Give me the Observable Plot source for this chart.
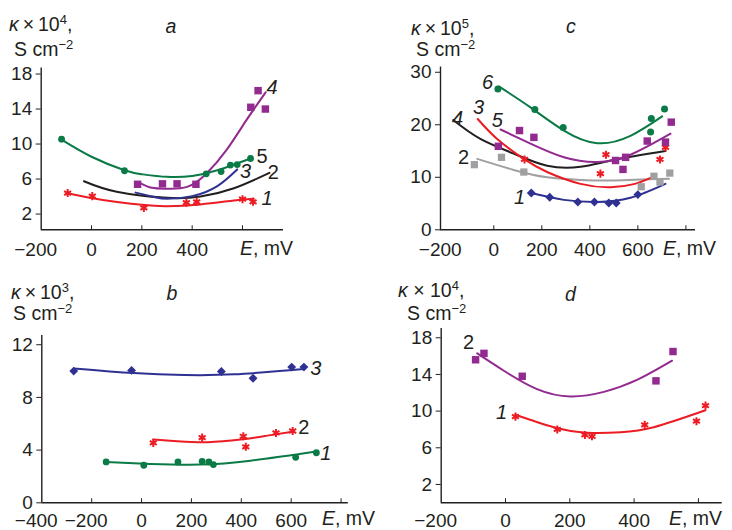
<!DOCTYPE html>
<html><head><meta charset="utf-8">
<script src="https://cdn.jsdelivr.net/npm/d3@7"></script>
<script src="https://cdn.jsdelivr.net/npm/@observablehq/plot@0.6"></script>
<style>
body{margin:0;background:#fff;}
#root{position:relative;width:732px;height:530px;font-family:"Liberation Sans",Arial,sans-serif;color:#231f20;overflow:hidden;}
.panel{position:absolute;}
.t{position:absolute;font-size:19.5px;line-height:19.5px;white-space:nowrap;}
.sup{position:relative;top:-7px;font-size:13px;}
</style></head><body><div id="root"></div>
<script>
// ---------- Panel a (κ×10^4) ----------
const a1Pts = [[-95,4.4],[3,4.05],[208,2.7],[377,3.3],[418,3.4],[600,3.7],[642,3.4]];
const a1Fit = [[-100,4.4],[45,3.6],[200,3.05],[300,2.9],[433,3.1],[566,3.55],[645,3.75]];
const a2Fit = [[-30,5.75],[100,4.55],[300,3.85],[433,4.0],[566,4.95],[707,6.7]];
const a3Fit = [[175,4.45],[250,3.95],[300,3.75],[400,4.05],[500,5.2],[579,7.1]];
const a4Pts = [[183,5.4],[282,5.45],[340,5.45],[415,5.4],[633,14.2],[662,16.1],[691,14.0]];
const a4Fit = [[190,5.6],[240,5.0],[300,4.9],[380,5.1],[456,6.6],[536,9.3],[615,12.7],[692,15.9]];
const a5Pts = [[-119,10.55],[131,6.95],[456,6.6],[515,6.85],[552,7.6],[579,7.65],[632,8.35]];
const a5Fit = [[-119,10.5],[0,8.55],[131,7.0],[200,6.55],[300,6.25],[400,6.35],[500,7.0],[632,8.35]];
const aLabels = [["4",718,16.4,true],["5",678,8.6,false],["3",612,6.8,true],["2",723,6.7,false],["1",698,3.8,true]];
const aYTicks = [2,6,10,14,18];
const aXTicks = [-200,0,200,400];

// ---------- Panel b (κ×10^3) ----------
const b1Pts = [[-142,3.1],[9,2.85],[146,3.1],[243,3.15],[270,3.1],[288,2.9],[618,3.45],[701,3.8]];
const b1Fit = [[-142,3.1],[36,2.95],[237,2.9],[437,3.2],[701,3.9]];
const b2Pts = [[47,4.55],[243,4.95],[408,5.05],[418,4.25],[539,5.3],[606,5.45]];
const b2Fit = [[47,4.8],[143,4.68],[264,4.6],[397,4.8],[504,5.1],[611,5.42]];
const b3Pts = [[-272,10.0],[-40,10.05],[320,9.97],[447,9.45],[602,10.3],[651,10.3]];
const b3Fit = [[-272,10.2],[-31,9.85],[170,9.7],[371,9.75],[651,10.15]];
const bLabels = [["3",699,10.2,true],["2",651,5.7,false],["1",739,3.75,true]];
const bYTicks = [0,4,8,12];
const bXTicks = [-400,-200,0,200,400,600];

// ---------- Panel c (κ×10^5) ----------
const c1Pts = [[156,7.0],[233,6.2],[350,5.3],[419,5.3],[479,5.1],[510,5.1],[600,6.7]];
const c1Fit = [[156,7.0],[292,5.7],[431,5.3],[569,6.1],[715,8.75]];
const c2Pts = [[-81,12.4],[32,13.8],[125,11.0],[614,8.2],[667,10.2],[692,9.1],[733,10.8]];
const c2Fit = [[-69,13.5],[83,11.4],[222,10.0],[361,9.5],[500,9.4],[729,9.7]];
const c3Pts = [[128,13.4],[444,10.7],[467,14.3],[692,13.4],[715,15.7]];
const c3Fit = [[-67,21.1],[14,17.3],[125,13.5],[222,11.0],[361,8.75],[486,8.1],[583,8.7],[653,9.9]];
const c4Fit = [[-169,20.9],[-56,17.3],[83,14.5],[222,12.2],[361,12.0],[500,13.3],[715,15.0]];
const c5Pts = [[19,15.9],[107,18.9],[167,17.6],[507,13.2],[538,11.5],[549,13.8],[639,16.9],[715,16.7],[739,20.5]];
const c5Fit = [[28,19.1],[153,16.4],[292,13.8],[431,12.9],[569,14.3],[736,18.3]];
const c6Pts = [[17,26.8],[171,22.9],[289,19.5],[656,21.2],[653,18.6],[711,23.0]];
const c6Fit = [[21,27.3],[153,23.3],[292,18.9],[431,16.5],[569,17.9],[701,21.6]];
const cLabels = [["6",-26,28.0,true],["5",15,20.8,true],["3",-64,23.3,true],["4",-151,21.2,true],["2",-126,13.8,false],["1",107,6.15,true]];
const cYTicks = [0,10,20,30];
const cXTicks = [-200,0,200,400,600];

// ---------- Panel d (κ×10^4) ----------
const d1Pts = [[31,9.4],[161,8.0],[247,7.4],[269,7.25],[433,8.5],[594,8.9],[622,10.6]];
const d1Fit = [[31,9.6],[150,8.25],[254,7.65],[358,7.7],[461,8.25],[622,10.1]];
const d2Pts = [[-93,15.6],[-67,16.3],[52,13.8],[468,13.3],[521,16.5]];
const d2Fit = [[-88,16.3],[-5,14.4],[98,12.4],[202,11.6],[306,12.1],[409,13.4],[518,15.5]];
const dLabels = [["2",-115,17.5,false],["1",-12,9.85,true]];
const dYTicks = [2,6,10,14,18];
const dXTicks = [-200,0,200,400];

const RED = "#ec1c24", GREEN = "#0a7a46", PURPLE = "#922a90", BLUE = "#2e3192", BLACK = "#231f20", GRAY = "#a0a0a0";
const INK = "#231f20";
const FS = 19;

function panel(cfg) {
  const {left, top, w = 366, h = 265, m, xDomain, yDomain, xTicks, xTickMarks, yTicks, series, labels, labelPad} = cfg;
  const frameH = h - m.top - m.bottom;
  const marks = [];
  for (const s of series) if (s.fit)
    marks.push(Plot.line(s.fit, {x: d => d[0], y: d => d[1], stroke: s.color, strokeWidth: 2, curve: "natural"}));
  for (const s of series) if (s.pts) {
    const star = s.symbol === "asterisk";
    marks.push(Plot.dot(s.pts, {x: d => d[0], y: d => d[1], symbol: s.symbol, r: s.r,
      fill: star ? "none" : s.color, stroke: star ? s.color : "none", strokeWidth: star ? 2 : 0}));
  }
  marks.push(Plot.ruleX([xDomain[0]], {stroke: INK, strokeWidth: 1.4}));
  marks.push(Plot.ruleY([yDomain[0]], {stroke: INK, strokeWidth: 1.4}));
  marks.push(Plot.tickX(xTickMarks, {x: d => d, insetTop: frameH - 4, stroke: INK, strokeWidth: 1}));
  marks.push(Plot.axisY(yTicks, {tickSize: 5, tickPadding: 4, fontSize: FS, fill: INK, stroke: INK, label: null, tickFormat: d => String(d)}));
  const fmt = d => (d < 0 ? "\u2212" : "") + Math.abs(d);
  for (const nd of [1, 3]) {
    const sub = xTicks.filter(d => String(Math.abs(d)).length === nd);
    marks.push(Plot.text(sub, {x: d => d, y: () => yDomain[0], text: fmt, textAnchor: "end", dx: nd * 0.278 * FS, dy: labelPad,
      lineAnchor: "top", fontSize: FS, fill: INK}));
  }
  for (const it of [true, false]) {
    marks.push(Plot.text(labels.filter(l => l[3] === it), {x: d => d[1], y: d => d[2], text: d => d[0],
      fontSize: 20, fontStyle: it ? "italic" : "normal", fill: INK}));
  }
  const svg = Plot.plot({
    width: w, height: h,
    marginLeft: m.left, marginRight: m.right, marginTop: m.top, marginBottom: m.bottom,
    x: {domain: xDomain, axis: null},
    y: {domain: yDomain},
    style: {background: "transparent", color: INK, fontFamily: "'Liberation Sans', Arial, sans-serif", fontSize: FS + "px", overflow: "visible"},
    marks
  });
  svg.classList.add("panel");
  svg.style.left = left + "px";
  svg.style.top = top + "px";
  return svg;
}

const root = document.getElementById("root");

root.appendChild(panel({
  left: 0, top: 0, m: {left: 40.7, right: 83, top: 67.4, bottom: 35.7},
  xDomain: [-200, 763], yDomain: [0.2, 18.7], xTicks: aXTicks, xTickMarks: [0,200,400,600], yTicks: aYTicks, labelPad: 13,
  series: [
    {fit: a2Fit, color: BLACK},
    {fit: a3Fit, color: BLUE},
    {fit: a1Fit, pts: a1Pts, color: RED, symbol: "asterisk", r: 3.8},
    {fit: a5Fit, pts: a5Pts, color: GREEN, symbol: "circle", r: 3.4},
    {fit: a4Fit, pts: a4Pts, color: PURPLE, symbol: "square", r: 4.2}
  ],
  labels: aLabels
}));

root.appendChild(panel({
  left: 366, top: 0, m: {left: 74, right: 37, top: 66.5, bottom: 35.7},
  xDomain: [-222, 840], yDomain: [0, 31], xTicks: cXTicks, xTickMarks: [0,200,400,600,800], yTicks: cYTicks, labelPad: 13,
  series: [
    {fit: c2Fit, pts: c2Pts, color: GRAY, symbol: "square", r: 4.1},
    {fit: c4Fit, color: BLACK},
    {fit: c3Fit, pts: c3Pts, color: RED, symbol: "asterisk", r: 3.8},
    {fit: c5Fit, pts: c5Pts, color: PURPLE, symbol: "square", r: 4.2},
    {fit: c6Fit, pts: c6Pts, color: GREEN, symbol: "circle", r: 3.5},
    {fit: c1Fit, pts: c1Pts, color: BLUE, symbol: "diamond2", r: 4}
  ],
  labels: cLabels
}));

root.appendChild(panel({
  left: 0, top: 265, m: {left: 41.3, right: 18.2, top: 70, bottom: 27.7},
  xDomain: [-400, 829], yDomain: [0, 12.7], xTicks: bXTicks, xTickMarks: [-200,0,200,400,600,800], yTicks: bYTicks, labelPad: 11,
  series: [
    {fit: b1Fit, pts: b1Pts, color: GREEN, symbol: "circle", r: 3.4},
    {fit: b2Fit, pts: b2Pts, color: RED, symbol: "asterisk", r: 3.8},
    {fit: b3Fit, pts: b3Pts, color: BLUE, symbol: "diamond2", r: 4}
  ],
  labels: bLabels
}));

root.appendChild(panel({
  left: 366, top: 265, m: {left: 74.7, right: 10.3, top: 63.1, bottom: 27.7},
  xDomain: [-200, 674], yDomain: [0, 19], xTicks: dXTicks, xTickMarks: [0,200,400,600], yTicks: dYTicks, labelPad: 11,
  series: [
    {fit: d1Fit, pts: d1Pts, color: RED, symbol: "asterisk", r: 3.8},
    {fit: d2Fit, pts: d2Pts, color: PURPLE, symbol: "square", r: 4.2}
  ],
  labels: dLabels
}));

// ---------- Titles (HTML text overlays) ----------
function txt(x, baseline, html) {
  const d = document.createElement("div");
  d.className = "t";
  d.style.left = x + "px";
  d.style.top = (baseline - 16.5) + "px";
  d.innerHTML = html;
  root.appendChild(d);
}
const kappa = (p, sp) => `<i>κ</i>${sp ? " × " : "\u2009×\u2009"}10<span class="sup">${p}</span>,`;
const unit = `S cm<span class="sup">\u22122</span>`;
const emv = `<i>E</i>, mV`;
// panel a
txt(9, 31.7, kappa(4)); txt(14, 56.7, unit); txt(165.5, 33.3, "<i>a</i>"); txt(240, 255, emv);
// panel c
txt(411, 35, kappa(5)); txt(416, 56.7, unit); txt(566, 33.3, "<i>c</i>"); txt(663, 255, emv);
// panel b
txt(11, 299, kappa(3)); txt(13, 320, unit); txt(166.5, 300, "<i>b</i>"); txt(322, 525, emv);
// panel d
txt(398, 297, kappa(4, true)); txt(407, 320, unit); txt(565, 301.7, "<i>d</i>"); txt(669, 525, emv);
</script>
</body></html>
